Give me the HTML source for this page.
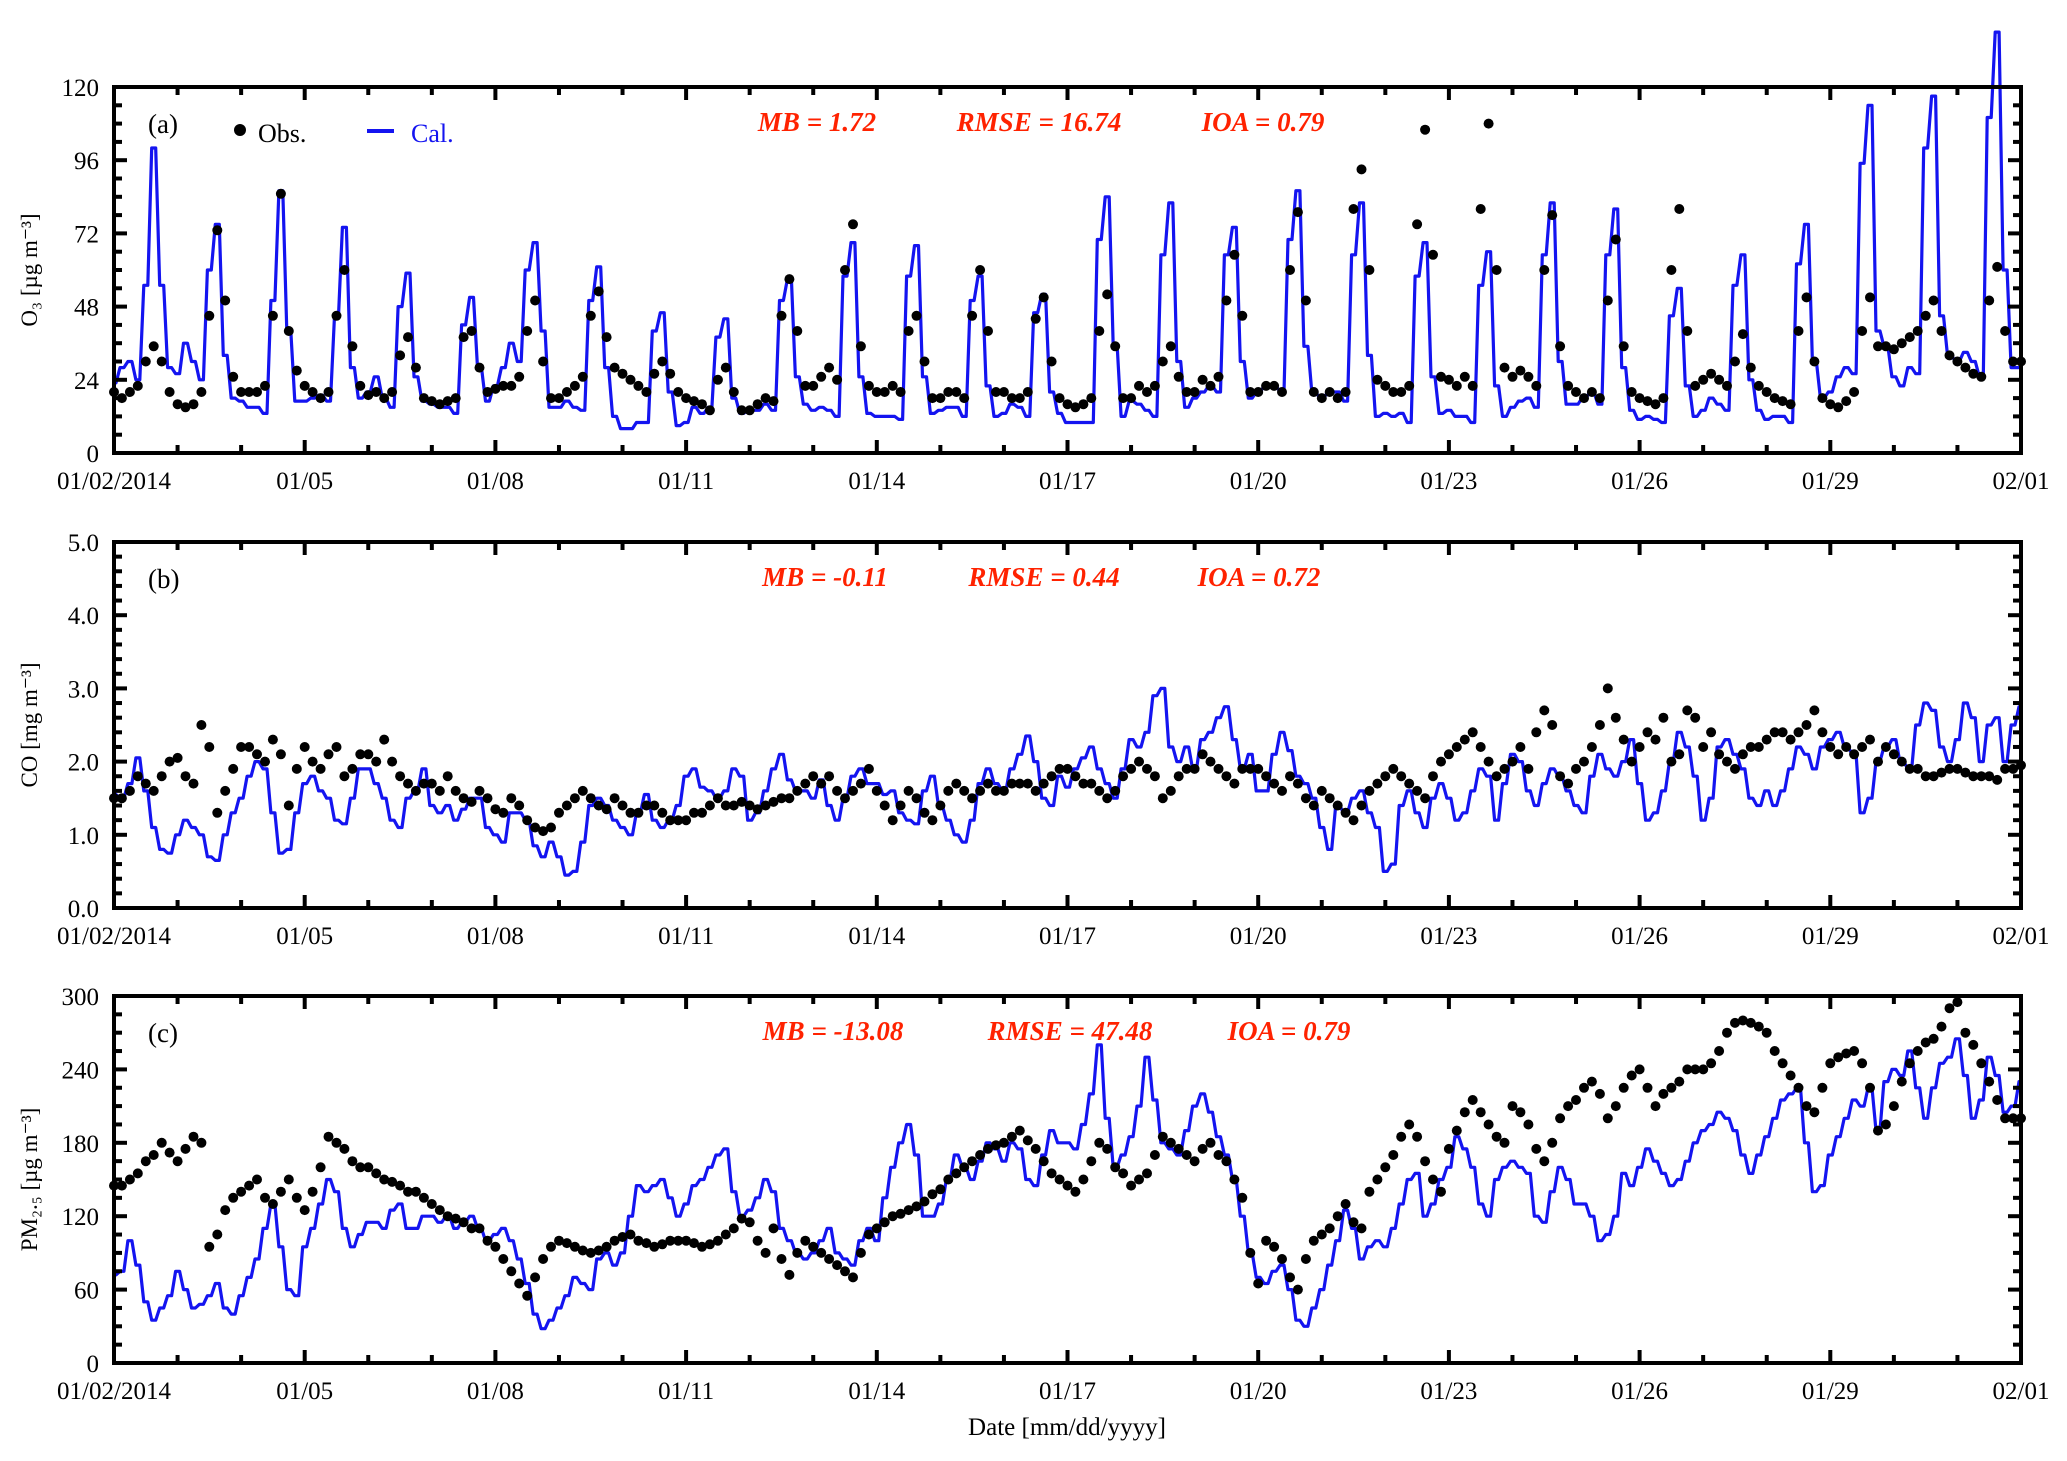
<!DOCTYPE html>
<html><head><meta charset="utf-8"><title>O3 CO PM2.5 time series</title>
<style>
html,body{margin:0;padding:0;background:#fff;}
svg{display:block;font-family:"Liberation Serif",serif;}
.tk{font-size:25px;fill:#000;}
.st{font-size:27px;fill:#ff2200;font-weight:bold;font-style:italic;}
</style></head><body>
<svg id="chart" width="2067" height="1461" viewBox="0 0 2067 1461" xmlns="http://www.w3.org/2000/svg"></svg>
<script>
// ---------- data (3-hourly values, one row per day starting 01/02) ----------
const dateTicks = ["01/02/2014","01/05","01/08","01/11","01/14","01/17","01/20","01/23","01/26","01/29","02/01"];
const o3Ticks = [0,24,48,72,96,120];
const coTicks = ["0.0","1.0","2.0","3.0","4.0","5.0"];
const pmTicks = [0,60,120,180,240,300];

const o3Cal = [
[23,28,30,24,55,100,55,28],[26,36,30,24,60,75,32,18],[17,15,15,13,50,86,40,17],[17,18,19,17,45,74,28,18],
[20,25,18,15,48,59,25,17],[16,15,15,13,42,51,28,17],[22,28,36,30,60,69,40,15],[15,17,15,14,50,61,28,12],
[8,8,10,10,40,46,20,9],[10,15,13,15,38,44,18,13],[14,14,16,14,50,57,25,16],[14,15,14,12,58,69,25,13],
[12,12,12,11,58,68,25,13],[14,15,15,12,50,58,22,12],[13,16,15,12,46,52,20,13],[10,10,10,10,70,84,35,12],
[17,16,14,12,65,82,30,15],[18,20,22,20,65,74,30,18],[20,22,22,20,70,86,35,20],[18,20,20,17,65,82,32,12],
[13,12,13,10,58,69,25,13],[14,12,12,10,55,66,22,12],[15,17,18,15,65,82,30,16],[16,18,20,16,65,80,28,14],
[11,12,11,10,45,54,22,12],[14,18,16,14,55,65,24,14],[11,12,12,10,62,75,30,18],[20,25,28,26,95,114,40,35],
[25,22,28,26,100,117,45,32],[30,33,30,25,110,138,60,28],[28]];
const o3Obs = [
[20,18,20,22,30,35,30,20],[16,15,16,20,45,73,50,25],[20,20,20,22,45,85,40,27],[22,20,18,20,45,60,35,22],
[19,20,18,20,32,38,28,18],[17,16,17,18,38,40,28,20],[21,22,22,25,40,50,30,18],[18,20,22,25,45,53,38,28],
[26,24,22,20,26,30,26,20],[18,17,16,14,24,28,20,14],[14,16,18,17,45,57,40,22],[22,25,28,24,60,75,35,22],
[20,20,22,20,40,45,30,18],[18,20,20,18,45,60,40,20],[20,18,18,20,44,51,30,18],[16,15,16,18,40,52,35,18],
[18,22,20,22,30,35,25,20],[20,24,22,25,50,65,45,20],[20,22,22,20,60,79,50,20],[18,20,18,20,80,93,60,24],
[22,20,20,22,75,106,65,25],[24,22,25,22,80,108,60,28],[25,27,25,22,60,78,35,22],[20,18,20,18,50,70,35,20],
[18,17,16,18,60,80,40,22],[24,26,24,22,30,39,28,22],[20,18,17,16,40,51,30,18],[16,15,17,20,40,51,35,35],
[34,36,38,40,45,50,40,32],[30,28,26,25,50,61,40,30],[30]];
const coCal = [
[1.55,1.5,1.7,2.05,1.6,1.1,0.8,0.75],[1.0,1.2,1.1,1.0,0.7,0.65,1.0,1.3],[1.5,1.8,2.0,1.9,1.3,0.75,0.8,1.3],
[1.7,1.8,1.6,1.5,1.2,1.15,1.5,1.9],[1.9,1.7,1.5,1.2,1.1,1.5,1.6,1.9],[1.4,1.3,1.4,1.2,1.35,1.5,1.5,1.1],
[1.0,0.9,1.3,1.3,1.2,0.85,0.7,0.9],[0.7,0.45,0.5,0.9,1.4,1.5,1.4,1.2],[1.1,1.0,1.3,1.55,1.2,1.1,1.2,1.4],
[1.8,1.9,1.65,1.6,1.5,1.6,1.9,1.8],[1.2,1.3,1.6,1.9,2.1,1.75,1.6,1.6],[1.5,1.75,1.4,1.2,1.5,1.8,1.9,1.7],
[1.7,1.55,1.6,1.3,1.2,1.15,1.6,1.8],[1.4,1.2,1.0,0.9,1.2,1.7,1.9,1.7],[1.6,1.9,2.1,2.35,2.0,1.5,1.4,1.8],
[1.65,1.9,2.05,2.2,1.9,1.7,1.5,1.9],[2.3,2.2,2.4,2.9,3.0,2.2,2.0,2.2],[1.9,2.3,2.4,2.6,2.75,2.3,1.9,2.1],
[1.6,1.6,2.1,2.4,2.15,1.8,1.7,1.5],[1.1,0.8,1.4,1.3,1.5,1.6,1.3,1.1],[0.5,0.6,1.4,1.6,1.3,1.1,1.5,1.7],
[1.5,1.2,1.3,1.6,1.9,1.8,1.2,1.7],[2.1,2.0,1.6,1.4,1.7,1.9,1.8,1.6],[1.4,1.3,1.8,2.1,1.9,1.8,2.0,2.3],
[1.7,1.2,1.3,1.6,2.0,2.4,2.2,1.8],[1.2,1.5,2.2,2.3,2.1,1.9,1.5,1.4],[1.6,1.4,1.6,1.9,2.2,2.1,1.9,2.2],
[2.3,2.4,2.2,2.1,1.3,1.5,2.0,2.2],[2.3,2.0,1.9,2.5,2.8,2.7,2.2,2.0],[2.3,2.8,2.6,2.0,2.5,2.6,2.0,2.5],[2.75]];
const coObs = [
[1.5,1.5,1.6,1.8,1.7,1.6,1.8,2.0],[2.05,1.8,1.7,2.5,2.2,1.3,1.6,1.9],[2.2,2.2,2.1,2.0,2.3,2.1,1.4,1.9],
[2.2,2.0,1.9,2.1,2.2,1.8,1.9,2.1],[2.1,2.0,2.3,2.0,1.8,1.7,1.6,1.7],[1.7,1.6,1.8,1.6,1.5,1.45,1.6,1.5],
[1.35,1.3,1.5,1.4,1.2,1.1,1.05,1.1],[1.3,1.4,1.5,1.6,1.5,1.4,1.35,1.5],[1.4,1.3,1.3,1.4,1.4,1.3,1.2,1.2],
[1.2,1.3,1.3,1.4,1.5,1.4,1.4,1.45],[1.4,1.35,1.4,1.45,1.5,1.5,1.6,1.7],[1.8,1.7,1.8,1.6,1.5,1.6,1.7,1.9],
[1.6,1.4,1.2,1.4,1.6,1.5,1.3,1.2],[1.4,1.6,1.7,1.6,1.5,1.6,1.7,1.6],[1.6,1.7,1.7,1.7,1.6,1.7,1.8,1.9],
[1.9,1.8,1.7,1.7,1.6,1.5,1.6,1.8],[1.9,2.0,1.9,1.8,1.5,1.6,1.8,1.9],[1.9,2.1,2.0,1.9,1.8,1.7,1.9,1.9],
[1.9,1.8,1.7,1.6,1.8,1.7,1.5,1.4],[1.6,1.5,1.4,1.3,1.2,1.4,1.6,1.7],[1.8,1.9,1.8,1.7,1.6,1.5,1.8,2.0],
[2.1,2.2,2.3,2.4,2.2,2.0,1.8,1.9],[2.0,2.2,1.9,2.4,2.7,2.5,1.8,1.7],[1.9,2.0,2.2,2.5,3.0,2.6,2.3,2.0],
[2.2,2.4,2.3,2.6,2.0,2.1,2.7,2.6],[2.2,2.4,2.1,2.0,1.9,2.1,2.2,2.2],[2.3,2.4,2.4,2.3,2.4,2.5,2.7,2.4],
[2.2,2.1,2.2,2.1,2.2,2.3,2.0,2.2],[2.1,2.0,1.9,1.9,1.8,1.8,1.85,1.9],[1.9,1.85,1.8,1.8,1.8,1.75,1.9,1.9],[1.95]];
const pmCal = [
[72,75,100,80,50,35,45,55],[75,60,45,48,55,65,45,40],[55,70,85,110,130,95,60,55],[95,110,130,150,140,110,95,105],
[115,115,110,125,130,110,110,120],[120,115,120,110,115,120,110,100],[105,110,100,85,65,40,28,35],[45,55,70,65,60,85,90,80],
[90,120,145,140,145,150,135,120],[130,145,150,160,170,175,140,120],[125,135,150,140,110,100,90,85],[90,100,110,90,85,80,100,110],
[100,135,160,180,195,170,120,120],[130,150,170,160,150,165,180,175],[165,180,175,150,145,170,190,180],[180,175,195,220,260,200,160,170],
[185,210,250,215,180,175,170,190],[210,220,205,185,170,150,120,90],[70,65,75,80,60,35,30,45],[60,80,100,125,110,85,95,100],
[95,110,130,150,155,120,130,150],[160,185,175,160,130,120,150,160],[165,160,155,120,115,140,160,150],[130,130,120,100,105,120,155,145],
[160,175,165,155,145,150,165,180],[190,195,205,200,190,170,155,170],[185,200,215,220,225,180,140,145],[170,185,200,215,210,225,190,230],
[240,235,255,225,200,225,245,250],[265,235,200,215,250,235,205,210],[230]];
const pmObs = [
[145,145,150,155,165,170,180,172],[165,175,185,180,95,105,125,135],[140,145,150,135,130,140,150,135],[125,140,160,185,180,175,165,160],
[160,155,150,148,145,140,140,135],[130,125,120,118,115,110,110,100],[95,85,75,65,55,70,85,95],[100,98,95,92,90,92,95,100],
[103,105,100,98,95,97,100,100],[100,98,95,97,100,105,110,118],[115,100,90,110,85,72,90,100],[95,90,85,80,75,70,90,105],
[110,115,120,122,125,128,132,138],[142,150,155,160,165,170,175,178],[180,185,190,182,175,165,155,150],[145,140,150,165,180,175,160,155],
[145,150,155,170,185,180,175,170],[165,175,180,170,165,150,135,90],[65,100,95,85,70,60,85,100],[105,110,120,130,115,110,140,150],
[160,170,185,195,185,165,150,140],[175,190,205,215,205,195,185,180],[210,205,195,175,165,180,200,210],[215,225,230,220,200,210,225,235],
[240,225,210,220,225,230,240,240],[240,245,255,270,278,280,278,275],[270,255,245,235,225,210,205,225],[245,250,253,255,245,225,190,195],
[210,230,245,255,262,265,275,290],[295,270,260,245,230,215,200,200],[200]];

// ---------- layout ----------
const NS = "http://www.w3.org/2000/svg";
const svg = document.getElementById("chart");
const X0 = 114, X1 = 2021, NDAYS = 30;
function xs(day){ return X0 + (X1 - X0) * day / NDAYS; }
function mk(tag, attrs, parent){
  const e = document.createElementNS(NS, tag);
  for (const k in attrs) e.setAttribute(k, attrs[k]);
  (parent || svg).appendChild(e);
  return e;
}
function flat(rows){ const out=[]; rows.forEach(r=>r.forEach(v=>out.push(v))); return out; }

const panels = [
  {key:"o3", top:87, bot:453, max:120, ticks:o3Ticks, minor:6, major:24, cal:o3Cal, obs:o3Obs, tag:"(a)",
   stats:[["MB = 1.72",817],["RMSE = 16.74",1039],["IOA = 0.79",1263]], ytitle:"O\u2083 [\u00b5g m\u207b\u00b3]", legend:true},
  {key:"co", top:542, bot:908, max:5, ticks:coTicks, minor:0.2, major:1, cal:coCal, obs:coObs, tag:"(b)",
   stats:[["MB = -0.11",825],["RMSE = 0.44",1044],["IOA = 0.72",1259]], ytitle:"CO [mg m\u207b\u00b3]"},
  {key:"pm", top:996, bot:1363, max:300, ticks:pmTicks, minor:15, major:60, cal:pmCal, obs:pmObs, tag:"(c)",
   stats:[["MB = -13.08",833],["RMSE = 47.48",1070],["IOA = 0.79",1289]], ytitle:"PM\u2082.\u2085 [\u00b5g m\u207b\u00b3]"}
];

panels.forEach(p => {
  const g = mk("g", {});
  
  
  const ys = v => p.bot - (p.bot - p.top) * v / p.max;

  // series: calculated line (short plateau at each sample, sloped transitions)
  const cal = flat(p.cal);
  const hs = 0.75/24;
  let d = "";
  cal.forEach((v,i) => {
    const t = i*3/24;
    const xa = xs(Math.max(0, t-hs)), xb = xs(Math.min(NDAYS, t+hs)), y = ys(v).toFixed(1);
    d += (i ? "L" : "M") + xa.toFixed(1) + "," + y + "L" + xb.toFixed(1) + "," + y;
  });
  const line = mk("path", {d:d, fill:"none", stroke:"#1414f0", "stroke-width":3.2, "stroke-linejoin":"round"}, g);
  
  

  // series: observed dots
  const obs = flat(p.obs);
  const og = mk("g", {fill:"#000"}, g);
  
  
  obs.forEach((v,i) => {
    const c = mk("circle", {cx:xs(i*3/24).toFixed(1), cy:ys(v).toFixed(1), r:5}, og);
    
    
  });

  // frame
  const fr = mk("rect", {x:X0, y:p.top, width:X1-X0, height:p.bot-p.top, fill:"none", stroke:"#000", "stroke-width":4}, g);
  
  

  // x ticks
  const xt = mk("g", {stroke:"#000", "stroke-width":4}, g);
  
  
  for (let k=0; k<=NDAYS; k++){
    const L = (k % 3 === 0) ? 13 : 8, x = xs(k);
    mk("line", {x1:x, y1:p.bot, x2:x, y2:p.bot-L}, xt);
    mk("line", {x1:x, y1:p.top, x2:x, y2:p.top+L}, xt);
  }
  const xl = mk("g", {}, g);
  
  
  dateTicks.forEach((lab, j) => {
    const t = mk("text", {x:xs(j*3), y:p.bot+36, "text-anchor":"middle", class:"tk"}, xl);
    t.textContent = lab;
    
    
  });

  // y ticks
  const nMinor = Math.round(p.max / p.minor);
  const per = Math.round(p.major / p.minor);
  for (let k=0; k<=nMinor; k++){
    const y = ys(k*p.minor), L = (k % per === 0) ? 13 : 8;
    mk("line", {x1:X0, y1:y, x2:X0+L, y2:y}, xt);
    mk("line", {x1:X1, y1:y, x2:X1-L, y2:y}, xt);
  }
  const yl = mk("g", {}, g);
  
  
  p.ticks.forEach((lab, j) => {
    const t = mk("text", {x:99, y:ys(j*p.major)+9, "text-anchor":"end", class:"tk"}, yl);
    t.textContent = lab;
    
    
  });

  // y title
  const cy = (p.top + p.bot)/2;
  const yt = mk("text", {x:0, y:0, "text-anchor":"middle", "font-size":23, transform:"translate(37,"+cy+") rotate(-90)"}, g);
  yt.textContent = p.ytitle;
  
  

  // panel tag
  const tg = mk("text", {x:148, y:p.top+46, "font-size":27}, g);
  tg.textContent = p.tag;
  
  

  // stats
  p.stats.forEach(s => {
    const t = mk("text", {x:s[1], y:p.top+44, "text-anchor":"middle", class:"st"}, g);
    t.textContent = s[0];
    
    
  });

  if (p.legend){
    const lg = mk("g", {}, g);
    
    
    const e1 = mk("g", {}, lg);
    
    
    mk("circle", {cx:240, cy:130, r:6, fill:"#000"}, e1);
    const t1 = mk("text", {x:258, y:142, "font-size":26}, e1); t1.textContent = "Obs.";
    const e2 = mk("g", {}, lg);
    
    
    mk("line", {x1:367, y1:131, x2:394, y2:131, stroke:"#1414f0", "stroke-width":4}, e2);
    const t2 = mk("text", {x:411, y:142, "font-size":26, fill:"#1414f0"}, e2); t2.textContent = "Cal.";
  }
});

const xt = mk("text", {x:1067, y:1435, "text-anchor":"middle", "font-size":25});
xt.textContent = "Date [mm/dd/yyyy]";


</script>
</body></html>
